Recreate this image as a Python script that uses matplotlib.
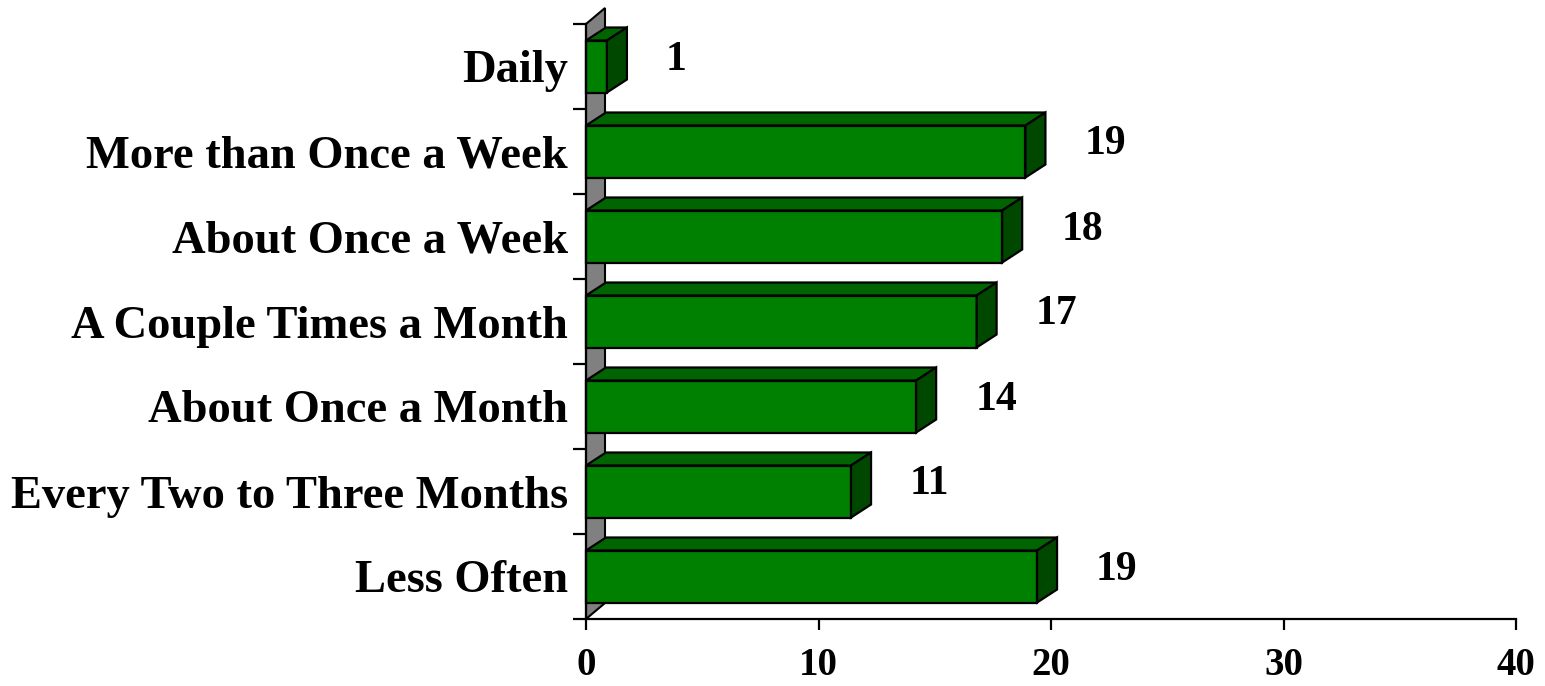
import matplotlib.pyplot as plt
from matplotlib.patches import Polygon

# data (top to bottom as in the chart)
categories = ['Daily', 'More than Once a Week', 'About Once a Week',
              'A Couple Times a Month', 'About Once a Month',
              'Every Two to Three Months', 'Less Often']
values = [0.9, 18.9, 17.9, 16.8, 14.2, 11.4, 19.4]
labels = ['1', '19', '18', '17', '14', '11', '19']
xticks = [0, 10, 20, 30, 40]

FRONT = '#008000'
TOP = '#006400'
SIDE = '#004800'
WALL = '#808080'

W, H, DPI = 1545, 686, 100
fig = plt.figure(figsize=(W / DPI, H / DPI), dpi=DPI)
ax_l, ax_r, ax_t, ax_b = 586, 1516, 24, 619
ax = fig.add_axes([ax_l / W, 1 - ax_b / H, (ax_r - ax_l) / W, (ax_b - ax_t) / H])

n = len(categories)
ax.set_xlim(0, 40)
ax.set_ylim(0, n)

# pixel -> data conversions
sx = 40 / (ax_r - ax_l)
sy = n / (ax_b - ax_t)

# back wall
wdx, wdy = 19 * sx, 16 * sy
wall = Polygon([(0, 0), (0, n), (wdx, n + wdy), (wdx, wdy)], closed=True,
               facecolor=WALL, edgecolor='black', linewidth=1.5, zorder=1,
               clip_on=False)
ax.add_patch(wall)

# 3D bars
bdx, bdy = 20 * sx, 13 * sy
bh = 52 / 85
for i, (v, lab) in enumerate(zip(values, labels)):
    c = n - i - 0.5
    b0, b1 = c - bh / 2, c + bh / 2
    faces = [
        ([(0, b0), (v, b0), (v, b1), (0, b1)], FRONT),
        ([(0, b1), (v, b1), (v + bdx, b1 + bdy), (bdx, b1 + bdy)], TOP),
        ([(v, b0), (v, b1), (v + bdx, b1 + bdy), (v + bdx, b0 + bdy)], SIDE),
    ]
    for pts, col in faces:
        ax.add_patch(Polygon(pts, closed=True, facecolor=col, edgecolor='black',
                             linewidth=1.6, zorder=3, clip_on=False))
    ax.text(v + 59 * sx, c + 7 * sy, lab, ha='left', va='center',
            fontsize=30, fontweight='bold', family='Liberation Serif')

# axes styling
for s in ['top', 'right']:
    ax.spines[s].set_visible(False)
for s in ['left', 'bottom']:
    ax.spines[s].set_linewidth(1.6)
    ax.spines[s].set_zorder(4)

ax.set_xticks(xticks)
ax.set_xticklabels([str(t) for t in xticks], fontsize=28, fontweight='bold',
                   family='Liberation Serif')
ax.tick_params(axis='x', direction='out', length=8, width=1.6, pad=12)

ax.set_yticks(range(n + 1))
ax.set_yticklabels([])
ax.tick_params(axis='y', which='major', direction='out', length=9.4, width=1.6)
ax.set_yticks([n - i - 0.5 for i in range(n)], minor=True)
ax.set_yticklabels(categories, minor=True, fontsize=33.5, fontweight='bold',
                   family='Liberation Serif')
ax.tick_params(axis='y', which='minor', length=0, pad=13)

fig.savefig('out.png', dpi=DPI)
